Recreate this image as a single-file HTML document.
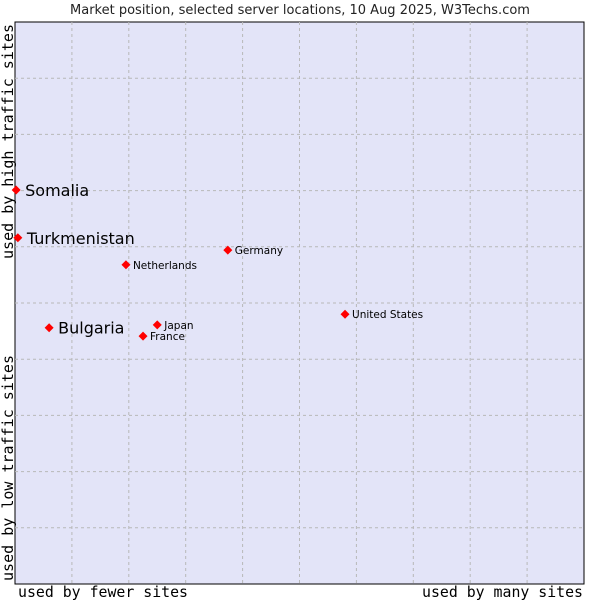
<!DOCTYPE html>
<html><head><meta charset="utf-8"><style>
html,body{margin:0;padding:0;background:#fff;width:600px;height:600px;overflow:hidden}
svg{display:block}
</style></head><body>
<svg id="chart" width="600" height="600" xmlns="http://www.w3.org/2000/svg">
<text x="300" y="14" text-anchor="middle" font-family="DejaVu Sans, Liberation Sans, sans-serif" font-size="13" fill="#222">Market position, selected server locations, 10 Aug 2025, W3Techs.com</text>
<rect x="15" y="22" width="569" height="562" fill="#e3e4f8" stroke="#000" stroke-width="1"/>
<g id="grid"></g>
<g id="points"></g>
<text x="18" y="597" textLength="170" lengthAdjust="spacingAndGlyphs" font-family="DejaVu Sans Mono, Liberation Mono, monospace" font-size="15" fill="#000">used by fewer sites</text>
<text x="422" y="597" textLength="161" lengthAdjust="spacingAndGlyphs" font-family="DejaVu Sans Mono, Liberation Mono, monospace" font-size="15" fill="#000">used by many sites</text>
<text transform="translate(13,581) rotate(-90)" textLength="226" lengthAdjust="spacingAndGlyphs" font-family="DejaVu Sans Mono, Liberation Mono, monospace" font-size="15" fill="#000">used by low traffic sites</text>
<text transform="translate(13,259) rotate(-90)" textLength="235" lengthAdjust="spacingAndGlyphs" font-family="DejaVu Sans Mono, Liberation Mono, monospace" font-size="15" fill="#000">used by high traffic sites</text>
</svg>
<script>
const countries = ["Somalia","Turkmenistan","Netherlands","Germany","United States","Bulgaria","Japan","France"];
const xValues = [0.2,0.5,19.5,37.4,58.0,6.0,25.0,22.5];
const yValues = [70.1,61.6,56.8,59.4,48.0,45.6,46.1,44.1];
const highlighted = [true,true,false,false,false,true,false,false];
const gridTicks = [10,20,30,40,50,60,70,80,90];
const X0=15,X1=584,Y0=584,Y1=22;
const sx=v=>X0+(X1-X0)*v/100;
const sy=v=>Y0-(Y0-Y1)*v/100;
const NS="http://www.w3.org/2000/svg";
const grid=document.getElementById('grid');
gridTicks.forEach(t=>{
  const v=document.createElementNS(NS,'line');
  v.setAttribute('x1',sx(t));v.setAttribute('x2',sx(t));v.setAttribute('y1',Y1);v.setAttribute('y2',Y0);
  v.setAttribute('stroke','#b8b8b8');v.setAttribute('stroke-dasharray','3,3');
  
  
  grid.appendChild(v);
  const h=document.createElementNS(NS,'line');
  h.setAttribute('y1',sy(t));h.setAttribute('y2',sy(t));h.setAttribute('x1',X0);h.setAttribute('x2',X1);
  h.setAttribute('stroke','#b8b8b8');h.setAttribute('stroke-dasharray','3,3');
  
  
  grid.appendChild(h);
});
const pts=document.getElementById('points');
countries.forEach((c,i)=>{
  const x=sx(xValues[i]),y=sy(yValues[i]);
  const d=document.createElementNS(NS,'path');
  d.setAttribute('d',`M${x} ${y-4.5}L${x+4.5} ${y}L${x} ${y+4.5}L${x-4.5} ${y}Z`);
  d.setAttribute('fill','#f00');
  
  
  pts.appendChild(d);
  const t=document.createElementNS(NS,'text');
  const big=highlighted[i];
  t.setAttribute('x',x+(big?9:7));
  t.setAttribute('y',y+(big?6:4));
  t.setAttribute('font-family','DejaVu Sans, Liberation Sans, sans-serif');
  t.setAttribute('font-size',big?16:10.5);
  t.setAttribute('fill','#000');
  t.textContent=c;
  
  
  pts.appendChild(t);
});
</script>
</body></html>
